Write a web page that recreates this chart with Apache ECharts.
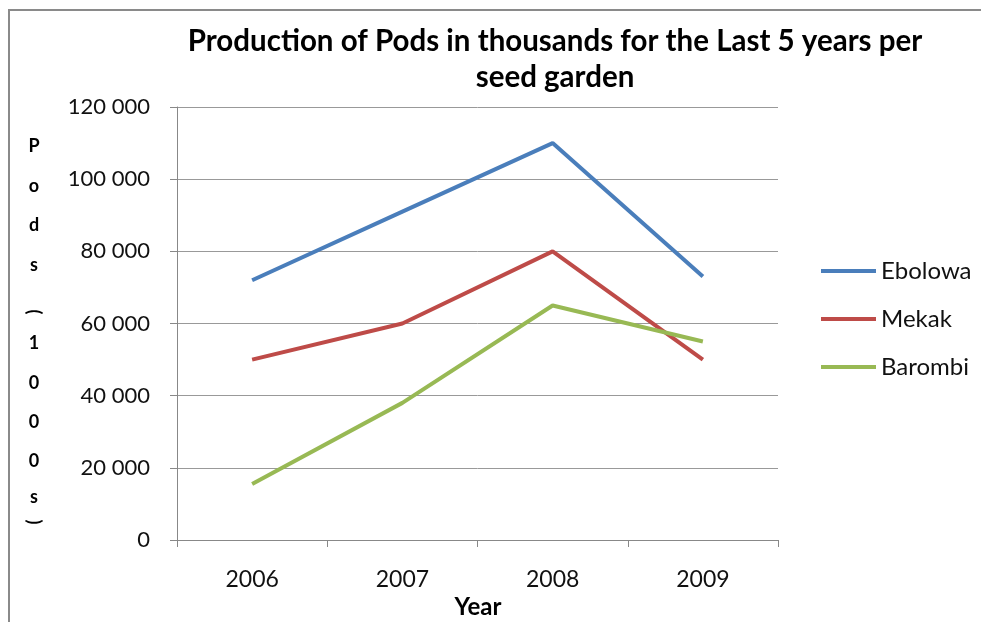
<!DOCTYPE html>
<html><head><meta charset="utf-8">
<script src="https://cdn.jsdelivr.net/npm/echarts@6/dist/echarts.min.js"></script>
<style>html,body{margin:0;padding:0;background:#fff}#c{width:981px;height:622px}</style>
</head><body><div id="c"></div>
<script>
const years = ['2006','2007','2008','2009'];
const ebolowa = [72000, 91000, 110000, 73000];
const mekak = [50000, 60000, 80000, 50000];
const barombi = [15500, 38000, 65000, 55000];
const titleLines = ['Production of Pods in thousands for the Last 5 years per', 'seed garden'];
const yLabelChars = ['P','o','d','s','(','1','0','0','0','s',')'];
const yLabelPos = [146,186,225,265,312,343,383,422,461,497,522];

const F = 'Lato, "Open Sans", sans-serif';
const chart = echarts.init(document.getElementById('c'));
const graphics = [
  {type:'rect', shape:{x:9,y:10,width:1100,height:700}, style:{fill:'none', stroke:'#8a8a8a', lineWidth:2}, silent:true}
];
yLabelChars.forEach((ch,i)=>{
  const paren = (ch==='(' || ch===')');
  graphics.push({type:'text', x:34, y:yLabelPos[i], rotation: paren ? -Math.PI/2 : 0,
    style:{text:ch, font:'bold 18px '+F, fill:'#000', align:'center', verticalAlign:'middle'}});
});
graphics.push({type:'text', x:478, y:607, style:{text:'Year', font:'bold 24px '+F, fill:'#000', align:'center', verticalAlign:'middle'}});

chart.setOption({
  animation:false,
  backgroundColor:'#fff',
  title:{text:titleLines.join('\n'), left:550, top:18, textAlign:'center',
    textStyle:{fontFamily:F, fontWeight:'bold', fontSize:29.5, lineHeight:36, color:'#000'}},
  graphic: graphics,
  legend:{orient:'vertical', left:816, top:254, itemGap:24, itemWidth:55, itemHeight:4, icon:'rect',
    textStyle:{fontFamily:F, fontSize:24, color:'#111', padding:[0,0,0,0]},
    data:['Ebolowa','Mekak','Barombi']},
  grid:{left:177, right:203, top:107, bottom:82, containLabel:false},
  xAxis:{type:'category', data:years, boundaryGap:true,
    axisLine:{lineStyle:{color:'#888', width:1}},
    axisTick:{show:true, length:7, lineStyle:{color:'#888'}, inside:false},
    axisLabel:{fontFamily:F, fontSize:23, color:'#111', margin:28}},
  yAxis:{type:'value', min:0, max:120000, interval:20000,
    axisLine:{show:true, lineStyle:{color:'#888'}},
    axisTick:{show:true, length:7, lineStyle:{color:'#888'}},
    splitLine:{lineStyle:{color:'#999', width:1}},
    axisLabel:{fontFamily:F, fontSize:22, color:'#111', margin:27,
      formatter:v=>String(v).replace(/\B(?=(\d{3})+(?!\d))/g,' ')}},
  series:[
    {name:'Ebolowa', type:'line', data:ebolowa, symbol:'none', lineStyle:{width:4, color:'#4A7EBB'}, itemStyle:{color:'#4A7EBB'}},
    {name:'Mekak', type:'line', data:mekak, symbol:'none', lineStyle:{width:4, color:'#BE4B48'}, itemStyle:{color:'#BE4B48'}},
    {name:'Barombi', type:'line', data:barombi, symbol:'none', lineStyle:{width:4, color:'#98B954'}, itemStyle:{color:'#98B954'}}
  ]
});
</script></body></html>
